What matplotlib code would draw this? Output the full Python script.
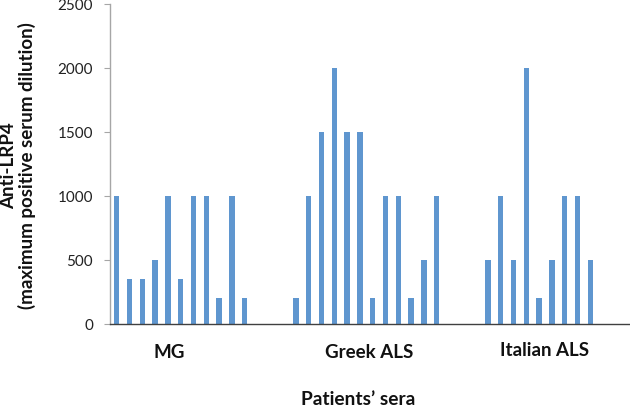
import matplotlib
matplotlib.use("Agg")
import matplotlib.pyplot as plt
import numpy as np

plt.rcParams['font.family'] = ['Lato', 'DejaVu Sans']

groups = ["MG", "Greek ALS", "Italian ALS"]
mg_values = [1000, 350, 350, 500, 1000, 350, 1000, 1000, 200, 1000, 200]
greek_values = [200, 1000, 1500, 2000, 1500, 1500, 200, 1000, 1000, 200, 500, 1000]
italian_values = [500, 1000, 500, 2000, 200, 500, 1000, 1000, 500]
yticks = [0, 500, 1000, 1500, 2000, 2500]
ylabel = "Anti-LRP4\n(maximum positive serum dilution)"
xlabel = "Patients\u2019 sera"

gap = 3
W, H = 630, 411
fig = plt.figure(figsize=(W / 100, H / 100), dpi=100)

def fx(px):
    return px / W

def fy(py):
    return 1 - py / H

ax_left, ax_right, ax_top, ax_bottom = 110.3, 630, 4, 324
ax = fig.add_axes([fx(ax_left), fy(ax_bottom), fx(ax_right - ax_left), (ax_bottom - ax_top) / H])

slot = 12.8
pos_mg = np.arange(len(mg_values))
pos_gr = np.arange(len(greek_values)) + len(mg_values) + gap
pos_it = np.arange(len(italian_values)) + len(mg_values) + gap + len(greek_values) + gap
positions = np.concatenate([pos_mg, pos_gr, pos_it])
values = mg_values + greek_values + italian_values

ax.bar(positions, values, width=0.42, color="#5F96CF", zorder=2)

ax.set_xlim(-0.5, -0.5 + (ax_right - ax_left) / slot)
ax.set_ylim(0, 2500)
ax.set_yticks(yticks)
ax.set_yticklabels([str(v) for v in yticks], fontsize=11, color="#222222")
ax.set_xticks([])
ax.tick_params(axis='y', length=4.5, width=0.8, color="#A6A6A6", pad=8)

for s in ["top", "right"]:
    ax.spines[s].set_visible(False)
ax.spines["left"].set_color("#A6A6A6")
ax.spines["left"].set_linewidth(1.0)
ax.spines["bottom"].set_color("#404040")
ax.spines["bottom"].set_linewidth(1.0)

# group labels
label_px = [(169, 352), (369, 352), (545, 350.5)]
for g, (px, py) in zip(groups, label_px):
    fig.text(fx(px), fy(py), g, ha="center", va="center", fontsize=13.5, fontweight="bold", color="#111111")

fig.text(fx(358), fy(399), xlabel, ha="center", va="center", fontsize=13.8, fontweight="bold", color="#111111")
fig.text(fx(18), fy(166), ylabel, ha="center", va="center", rotation=90, fontsize=13.5,
         fontweight="bold", color="#111111", linespacing=1.05, multialignment="center")

fig.savefig("out.png", dpi=100)
